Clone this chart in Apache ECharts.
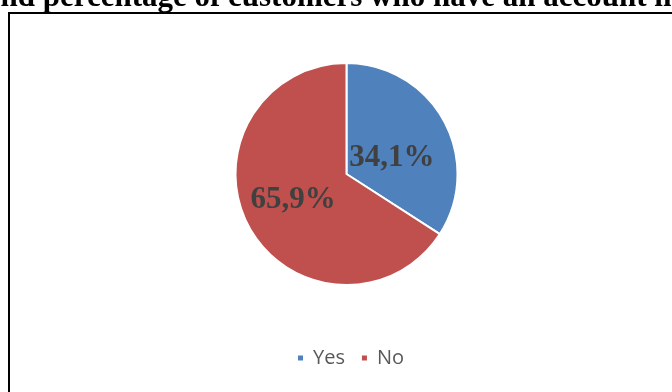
<!DOCTYPE html>
<html><head><meta charset="utf-8">
<script src="https://cdn.jsdelivr.net/npm/echarts@6/dist/echarts.min.js"></script>
<style>html,body{margin:0;padding:0;background:#fff}#c{width:672px;height:392px}</style>
</head><body><div id="c"></div>
<script>
const titleText = "Number and percentage of customers who have an account in";
const categories = ["Yes", "No"];
const values = [34.1, 65.9];
const colors = ["#4F81BD", "#C0504D"];

const chart = echarts.init(document.getElementById('c'));
chart.setOption({
  animation: false,
  graphic: [
    { type: 'rect', shape: { x: 9, y: 13, width: 720, height: 420 }, style: { fill: 'none', stroke: '#000', lineWidth: 2 } },
    { type: 'text', left: -133, top: -18, style: { text: titleText, font: 'bold 31px "Liberation Serif", "Times New Roman", serif', fill: '#000' } }
  ],
  legend: {
    bottom: 19, left: 291, itemWidth: 7, itemHeight: 7, itemGap: 15, icon: 'rect',
    textStyle: { fontFamily: 'Open Sans', fontSize: 20, color: '#595959', padding: [0, 0, 0, 4] },
    data: categories
  },
  series: [{
    type: 'pie', center: [346.5, 174], radius: [0, 111], startAngle: 90, clockwise: true,
    itemStyle: { borderColor: '#fff', borderWidth: 2 },
    label: {
      show: true, position: 'inside',
      formatter: p => p.value.toFixed(1).replace('.', ',') + '%',
      fontFamily: '"Liberation Serif", "Times New Roman", serif', fontWeight: 'bold', fontSize: 31, color: '#404040'
    },
    labelLine: { show: false },
    data: categories.map((c, i) => ({
      name: c, value: values[i], itemStyle: { color: colors[i] },
      label: i === 0 ? { offset: [-6, 12] } : { offset: [-2, -2] }
    }))
  }]
});
</script></body></html>
